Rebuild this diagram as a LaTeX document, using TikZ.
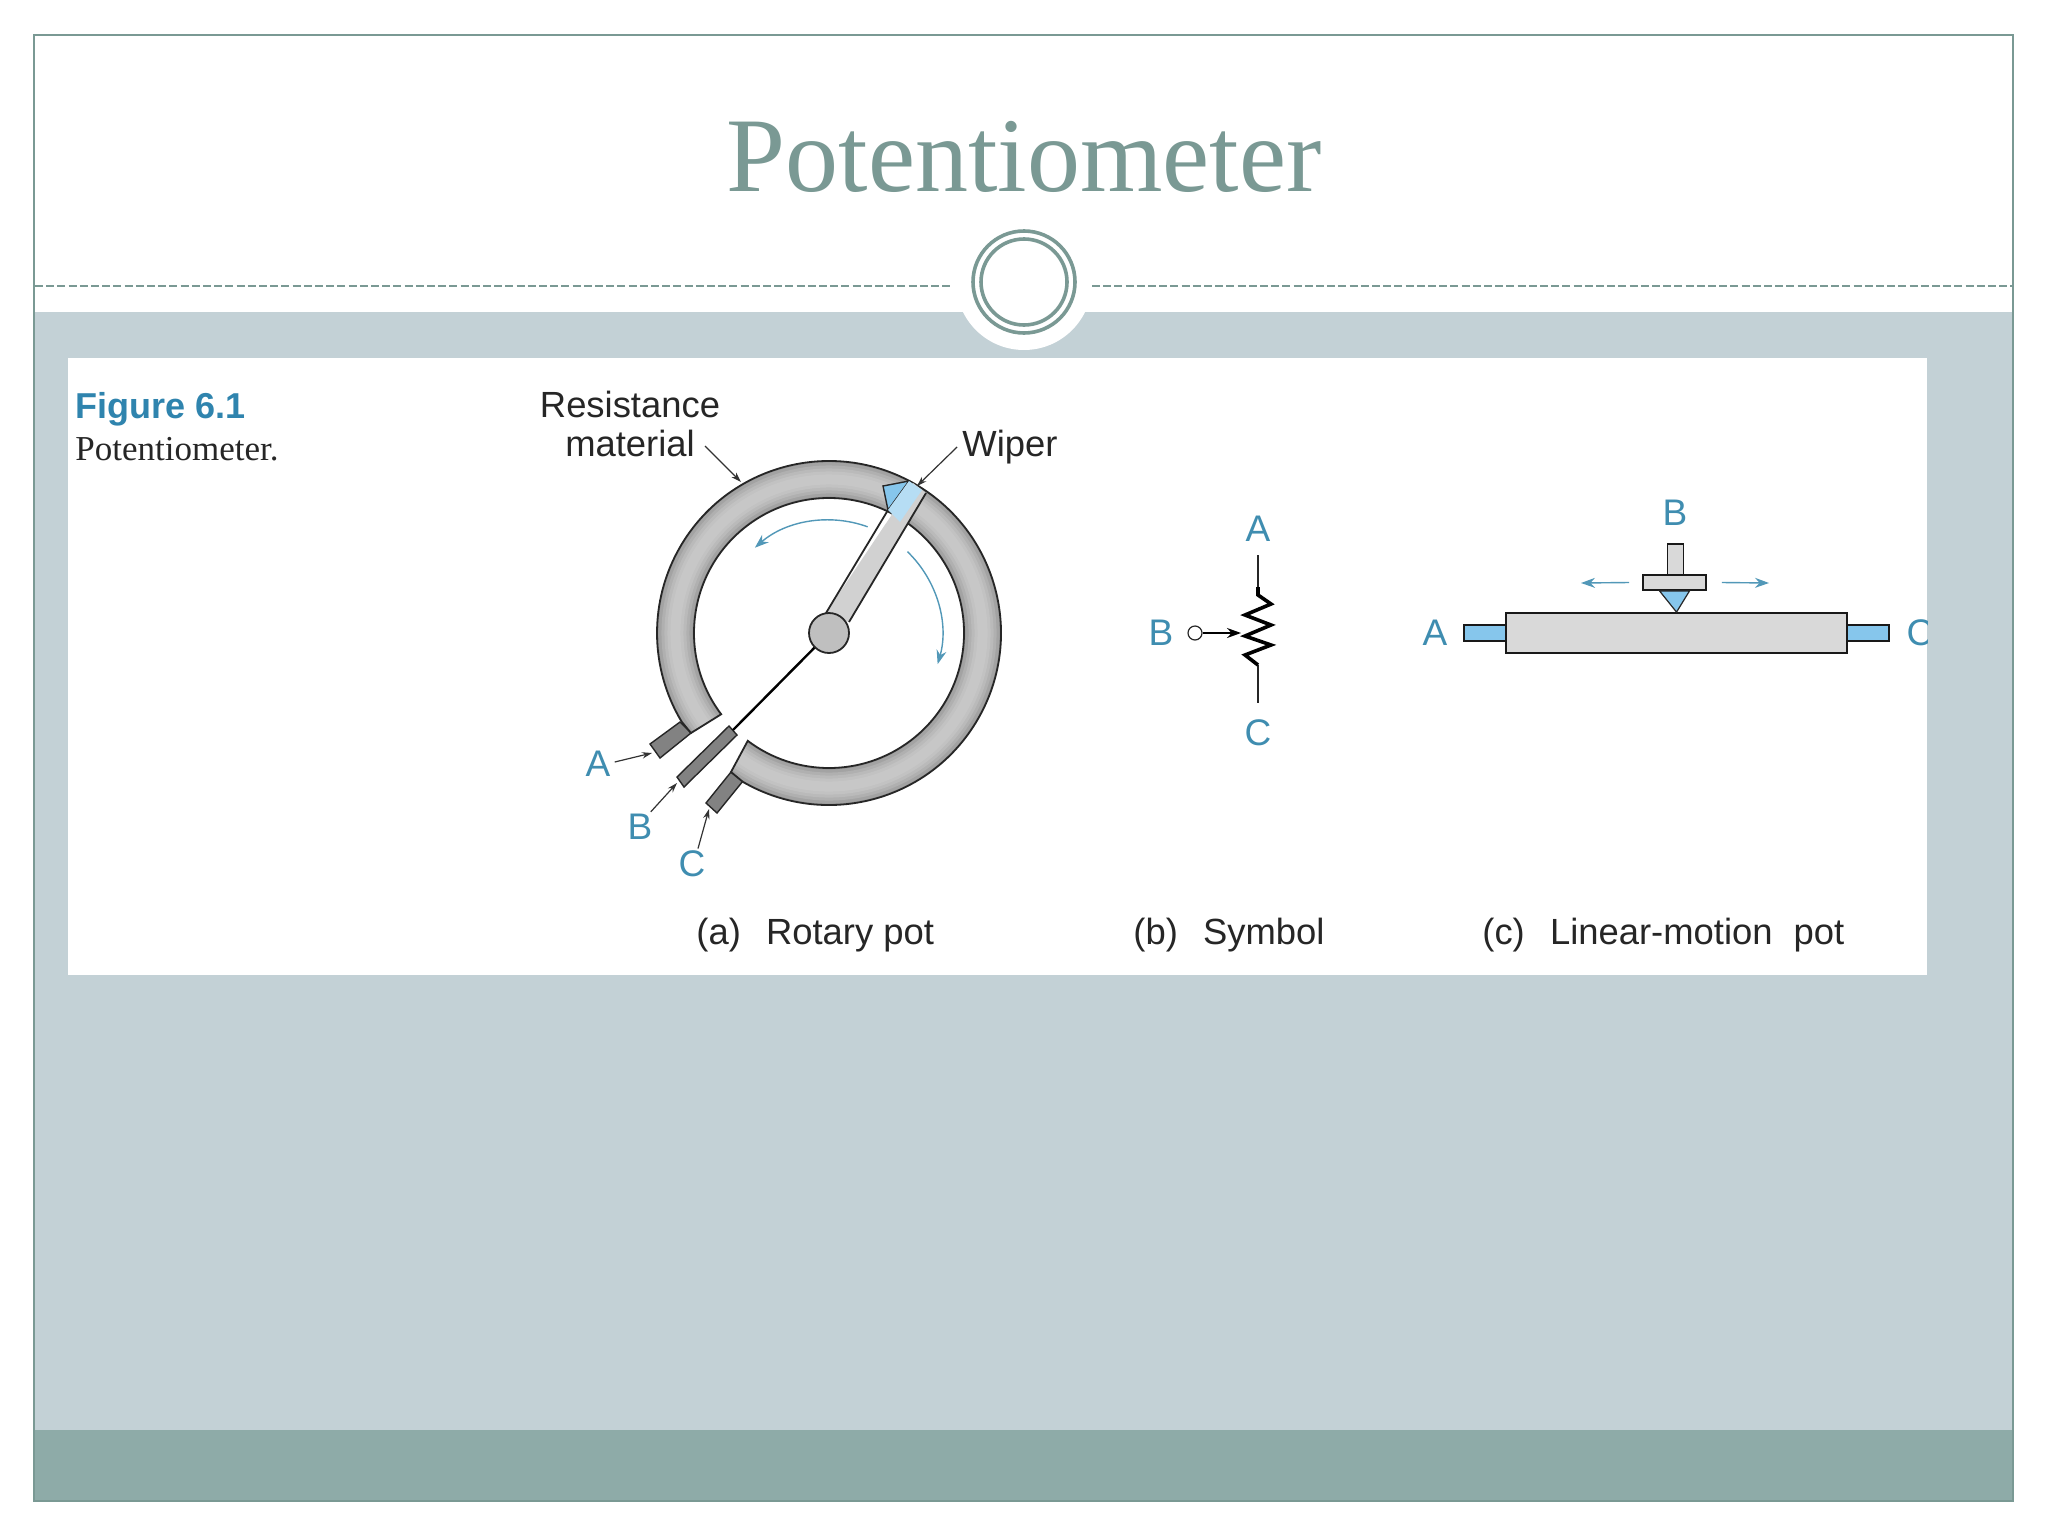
\documentclass[tikz,border=0pt]{standalone}
\usepackage{fontspec}
\setmainfont{Liberation Sans}
\newfontfamily\serifface{Liberation Serif}
\usetikzlibrary{calc,arrows.meta,positioning}
\definecolor{framegreen}{HTML}{7A9994}
\definecolor{slideblue}{HTML}{C3D1D6}
\definecolor{bandgreen}{HTML}{8EABA8}
\definecolor{labelblue}{HTML}{3F8DB0}
\definecolor{figblue}{HTML}{2F84AE}
\definecolor{tipblue}{HTML}{86C6EC}
\definecolor{bodygrey}{HTML}{D9D9D9}
\definecolor{termgrey}{HTML}{828282}
\tikzset{
  lbl/.style={inner sep=0pt,text=labelblue,font=\fontsize{18.5pt}{19.5pt}\selectfont},
  txt/.style={inner sep=0pt,text=black!85,font=\fontsize{18.2pt}{19.5pt}\selectfont},
  leader/.style={black!80,line width=0.6pt,-{Stealth[length=5pt,width=3.2pt]}},
  blueline/.style={labelblue!90,line width=0.7pt,-{Stealth[length=7pt,width=5pt]}},
  part/.style={draw=black!85,line width=0.9pt}
}
\begin{document}
\begin{tikzpicture}[x=0.5pt,y=0.5pt]
\useasboundingbox (0,0) rectangle (2048,-1536);
\fill[white] (0,0) rectangle (2048,-1536);

% slide
\fill[slideblue] (33,-312) rectangle (2014,-1430);
\fill[bandgreen] (33,-1430) rectangle (2014,-1502);
\draw[framegreen,line width=1pt] (34,-35) rectangle (2013,-1501);
\fill[white] (1024,-282) circle (68);
\fill[white] (952,-250) rectangle (1096,-312);
\coordinate (ruleL0) at (35,-286);
\coordinate (ruleL1) at (953,-286);
\coordinate (ruleR0) at (1092,-286);
\coordinate (ruleR1) at (2012,-286);
\draw[framegreen,line width=1.3pt,dash pattern=on 4pt off 1.6pt] (ruleL0) -- (ruleL1);
\draw[framegreen,line width=1.3pt,dash pattern=on 4pt off 1.6pt] (ruleR0) -- (ruleR1);
\draw[framegreen,line width=1.8pt] (1024,-282) circle (51);
\draw[framegreen,line width=1.8pt] (1024,-282) circle (43);
\node[anchor=base,inner sep=0pt,text=framegreen,font=\serifface\fontsize{53pt}{54pt}\selectfont] (title) at (1024,-191) {Potentiometer};

% picture panel
\fill[white] (68,-358) rectangle (1927,-975);
\node[anchor=base west,inner sep=0pt,text=figblue,font=\bfseries\fontsize{18pt}{20pt}\selectfont] (figno) at (75,-418) {Figure 6.1};
\node[anchor=base west,inner sep=0pt,text=black!85,font=\serifface\fontsize{17.5pt}{20pt}\selectfont] (figname) at (75,-460) {Potentiometer.};

% rotary pot
\coordinate (hubc) at (829,-633);
\fill[termgrey,draw=black!85,line width=0.7pt] (650,-744) -- (680,-722) -- (691,-733) -- (660,-758) -- cycle;
\fill[termgrey,draw=black!85,line width=0.7pt] (706,-803) -- (731,-772) -- (743,-781) -- (717,-813) -- cycle;
\fill[termgrey,draw=black!85,line width=0.7pt] (677,-777) -- (729,-726) -- (737,-735) -- (684,-787) -- cycle;
\coordinate (terma) at (652,-753);
\coordinate (termb) at (677,-783);
\coordinate (termc) at (709,-809);
\begin{scope}
\clip ($(hubc)+(240:172)$) arc (240:571:172) -- (691,-733) -- ($(hubc)+(217:135)$) arc (577:233:135) -- (731,-772) -- cycle;
\fill[black!42] (hubc) circle (180);
\foreach \w/\g in {34/36,28/31,22/27,16/24,10/22}
  \draw[black!\g,line width=\w*0.5pt] ($(hubc)+(200:153.5)$) arc (200:590:153.5);
\end{scope}
\draw[part] ($(hubc)+(240:172)$) arc (240:571:172) -- (691,-733) -- ($(hubc)+(217:135)$) arc (577:233:135) -- (731,-772) -- cycle;
% wiper
\coordinate (wipertip) at (917,-486);
\fill[black!18] (826,-613) -- (913,-483) -- (926,-493) -- (849,-622) -- cycle;
\draw[part] (826,-613) -- (888,-510);
\draw[part] (926,-493) -- (849,-622);
\fill[tipblue,draw=black!85,line width=0.7pt] (883,-486) -- (909,-481) -- (888,-510) -- cycle;
\fill[tipblue!60] (909,-481) -- (922,-490) -- (900,-522) -- (888,-510) -- cycle;
\coordinate (lineb) at (733,-730);
\draw[black,line width=1.2pt] (hubc) -- (lineb);
\node[circle,draw=black!85,fill=black!25,line width=0.9pt,minimum size=20pt,inner sep=0pt] (hub) at (hubc) {};
\draw[blueline] ($(hubc)+(70:113)$) arc (70:131:113);
\draw[blueline] ($(hubc)+(46:113)$) arc (46:-16:113);
\node[txt,align=center] (resist) at (630,-424) {Resistance\\material};
\node[txt] (wipertxt) at (1010,-447) {Wiper};
\node[lbl] (rotA) at (598,-764) {A};
\node[lbl] (rotB) at (640,-827) {B};
\node[lbl] (rotC) at (692,-864) {C};
\coordinate (resfrom) at (705,-446);
\coordinate (resto) at (741,-482);
\draw[leader] (resfrom) -- (resto);
\draw[leader] (wipertxt.west) ++(-5,0) -- (wipertip);
\draw[leader] (rotA.east) ++(4,2) -- (terma);
\draw[leader] (rotB.north east) ++(-2,2) -- (termb);
\draw[leader] (rotC.north) ++(6,2) -- (termc);

% symbol
\node[lbl] (symA) at (1258,-529) {A};
\node[lbl] (symB) at (1161,-633) {B};
\node[lbl] (symC) at (1258,-733) {C};
\node[circle,draw=black!85,line width=0.6pt,minimum size=7pt,inner sep=0pt] (symwiper) at (1195,-633) {};
\coordinate (symtop) at (1258,-555);
\coordinate (symbot) at (1258,-703);
\coordinate (zig0) at (1258,-587);
\coordinate (zig1) at (1258,-665);
\coordinate (symin) at (1241,-633);
\draw[black!85,line width=0.6pt] (symtop) -- (zig0);
\draw[black!85,line width=0.6pt] (zig1) -- (symbot);
\draw[black,line width=1.8pt] (zig0) -- (1258,-595) -- (1271,-604) -- (1245,-615) -- (1271,-625) -- (1245,-636) -- (1271,-645) -- (1245,-655) -- (zig1);
\draw[black,line width=0.8pt,-{Stealth[length=7pt,width=5pt]}] (symwiper) -- (symin);

% linear motion pot
\node[draw=black!90,line width=0.9pt,fill=tipblue,minimum width=21pt,minimum height=8pt,inner sep=0pt] (stubL) at (1485,-633) {};
\node[draw=black!90,line width=0.9pt,fill=tipblue,minimum width=21pt,minimum height=8pt,inner sep=0pt] (stubR) at (1868,-633) {};
\node[draw=black!90,line width=0.9pt,fill=bodygrey,minimum width=170.5pt,minimum height=20pt,inner sep=0pt] (body) at (1676.5,-633) {};
\node[draw=black!90,line width=0.9pt,fill=bodygrey,minimum width=8pt,minimum height=15.5pt,inner sep=0pt] (stem) at (1675.5,-559.5) {};
\node[draw=black!90,line width=0.9pt,fill=bodygrey,minimum width=31.5pt,minimum height=7.5pt,inner sep=0pt] (slider) at (1674.5,-582.5) {};
\fill[tipblue,draw=black!85,line width=0.6pt] (slider.south)++(-15,0) -- ++(30,0) -- (body.north) -- cycle;
\node[lbl] (linA) at (1435,-633) {A};
\node[lbl] (linB) at (1675,-513) {B};
\begin{scope}
\clip (1800,-560) rectangle (1927,-700);
\node[lbl] (linC) at (1920,-633) {C};
\end{scope}
\coordinate (moveL) at (1581,-583);
\coordinate (moveR) at (1769,-583);
\draw[blueline] (slider.west) ++(-13,0) -- (moveL);
\draw[blueline] (slider.east) ++(15,0) -- (moveR);

% captions
\node[txt,anchor=base west] (capa) at (696,-944) {(a)\hspace{12.6pt}Rotary pot};
\node[txt,anchor=base west] (capb) at (1133,-944) {(b)\hspace{12.6pt}Symbol};
\node[txt,anchor=base west] (capc) at (1482,-944) {(c)\hspace{12.6pt}Linear-motion\hspace{10.5pt}pot};
\end{tikzpicture}
\end{document}
